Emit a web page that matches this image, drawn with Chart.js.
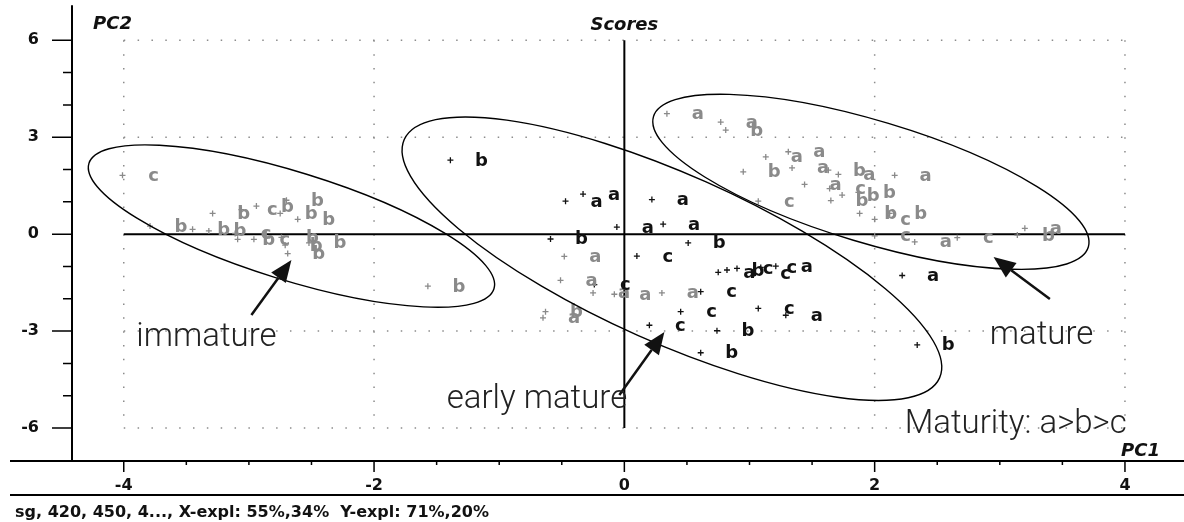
<!DOCTYPE html>
<html>
<head>
<meta charset="utf-8">
<script src="https://cdn.jsdelivr.net/npm/chart.js@4.4.1/dist/chart.umd.min.js"></script>
<style>
  html, body { margin: 0; padding: 0; background: #fff; }
</style>
</head>
<body>
<canvas id="myChart" width="1184" height="522"></canvas>
<script>
// axis tick labels
var xTicks = [-4, -2, 0, 2, 4];
var yTicks = [-6, -3, 0, 3, 6];

// scores drawn in black (early mature group)
var blackPC1 = [-1.39, -0.47, -0.33, 0.22, -0.06, 0.31, -0.59, 0.51, 0.10, 0.75, 0.82, 0.90, 1.04,
                1.09, 1.21, -0.24, 0.61, 0.45, 1.07, 1.29, 0.20, 0.74, 0.61, 2.22, 2.34];
var blackPC2 = [2.29, 1.02, 1.24, 1.07, 0.22, 0.31, -0.15, -0.27, -0.68, -1.18, -1.11, -1.06, -1.22,
                -1.03, -0.99, -1.56, -1.78, -2.40, -2.30, -2.51, -2.82, -2.99, -3.67, -1.28, -3.43];
var blackClass = ['b', 'a', 'a', 'a', 'a', 'a', 'b', 'b', 'c', 'a', 'b', 'c', 'c',
                  'c', 'a', 'c', 'c', 'c', 'c', 'a', 'c', 'b', 'b', 'a', 'b'];

// scores drawn in grey (immature, mature and a few early ones)
var greyPC1 = [-4.01, -3.79, -3.45, -3.32, -3.11, -3.09, -2.96, -2.74, -2.71, -2.69, -2.52, -3.29,
               -3.06, -2.94, -2.70, -2.75, -2.61, -1.57,
               -0.48, -0.51, -0.25, -0.08, 0.30, -0.63, -0.65,
               0.34, 0.77, 0.81, 1.13, 1.31, 0.95, 1.34, 1.44, 1.63, 1.71, 1.64, 1.65, 1.74, 1.87,
               1.88, 2.00, 2.12, 2.16, 1.07, 2.00, 2.32, 2.66, 3.14, 3.20];
var greyPC2 = [1.82, 0.25, 0.15, 0.10, 0.02, -0.16, -0.16, -0.10, -0.34, -0.60, -0.27, 0.64,
               0.76, 0.87, 1.05, 0.64, 0.46, -1.61,
               -0.69, -1.43, -1.82, -1.86, -1.82, -2.40, -2.59,
               3.73, 3.47, 3.22, 2.39, 2.55, 1.93, 2.05, 1.54, 1.98, 1.85, 1.41, 1.04, 1.21, 1.29,
               0.64, 0.46, 0.64, 1.82, 1.02, -0.05, -0.24, -0.11, -0.03, 0.18];
var greyClass = ['c', 'b', 'b', 'b', 'c', 'b', 'c', 'b', 'b', 'b', 'b', 'b',
                 'c', 'b', 'b', 'b', 'b', 'b',
                 'a', 'a', 'a', 'a', 'a', 'b', 'a',
                 'a', 'a', 'b', 'a', 'a', 'b', 'a', 'a', 'b', 'a', 'c', 'b', 'b', 'b',
                 'b', 'c', 'b', 'a', 'c', 'c', 'a', 'c', 'b', 'a'];

// group outlines: centre in score units, radii in px, tilt in degrees
var ellipses = [
    { cx: -2.66, cy: 0.25, rx: 212, ry: 54, rot: 17.2 },
    { cx: 0.38, cy: -0.76, rx: 293, ry: 84, rot: 24.0 },
    { cx: 1.97, cy: 1.62, rx: 227, ry: 61, rot: 16.7 }
];
// arrows: tail -> head in score units
var arrows = [
    { x1: -2.98, y1: -2.50, x2: -2.66, y2: -0.80 },
    { x1: -0.04, y1: -4.98, x2: 0.32, y2: -3.03 },
    { x1: 3.40, y1: -2.01, x2: 2.95, y2: -0.71 }
];
var notes = [
    { text: 'immature', x: -3.90, y: -3.46 },
    { text: 'mature', x: 2.92, y: -3.40 },
    { text: 'early mature', x: -1.42, y: -5.37 },
    { text: 'Maturity: a>b>c', x: 2.24, y: -6.15 }
];

function toPoints(xs, ys) {
    return xs.map(function (v, i) { return { x: v, y: ys[i] }; });
}

var scorePlot = {
    id: 'scorePlot',
    beforeDatasetsDraw: function (chart) {
        var ctx = chart.ctx, sx = chart.scales.x, sy = chart.scales.y;
        ctx.save();
        // dotted frame + grid
        ctx.strokeStyle = '#8c8c8c';
        ctx.lineWidth = 1.5;
        ctx.setLineDash([1.5, 12.35]);
        [-6, -3, 3, 6].forEach(function (v) {
            ctx.beginPath();
            ctx.moveTo(sx.getPixelForValue(-4), sy.getPixelForValue(v));
            ctx.lineTo(sx.getPixelForValue(4), sy.getPixelForValue(v));
            ctx.stroke();
        });
        [-4, -2, 2, 4].forEach(function (v) {
            ctx.beginPath();
            ctx.moveTo(sx.getPixelForValue(v), sy.getPixelForValue(6));
            ctx.lineTo(sx.getPixelForValue(v), sy.getPixelForValue(-6));
            ctx.stroke();
        });
        ctx.setLineDash([]);
        // zero cross
        ctx.strokeStyle = '#000';
        ctx.lineWidth = 2;
        ctx.beginPath();
        ctx.moveTo(sx.getPixelForValue(-4), sy.getPixelForValue(0));
        ctx.lineTo(sx.getPixelForValue(4), sy.getPixelForValue(0));
        ctx.moveTo(sx.getPixelForValue(0), sy.getPixelForValue(6));
        ctx.lineTo(sx.getPixelForValue(0), sy.getPixelForValue(-6));
        ctx.stroke();
        ctx.restore();
    },
    afterDatasetsDraw: function (chart) {
        var ctx = chart.ctx, sx = chart.scales.x, sy = chart.scales.y;
        var area = chart.chartArea;
        ctx.save();

        // letter next to every score
        ctx.font = 'bold 18px "DejaVu Sans"';
        ctx.textAlign = 'center';
        ctx.textBaseline = 'alphabetic';
        chart.data.datasets.forEach(function (ds, di) {
            var meta = chart.getDatasetMeta(di);
            ctx.fillStyle = ds.borderColor;
            meta.data.forEach(function (pt, i) {
                ctx.fillText(ds.classes[i], pt.x + 31, pt.y + 5.5);
            });
        });

        // axes
        ctx.strokeStyle = '#000';
        ctx.lineWidth = 2;
        ctx.beginPath();
        ctx.moveTo(area.left, area.top);
        ctx.lineTo(area.left, area.bottom);
        ctx.moveTo(10, area.bottom);
        ctx.lineTo(chart.width, area.bottom);
        ctx.moveTo(10, area.bottom + 34);
        ctx.lineTo(chart.width, area.bottom + 34);
        ctx.stroke();

        ctx.lineWidth = 1.5;
        ctx.beginPath();
        for (var v = -4; v <= 4.01; v += 0.5) {
            var p = sx.getPixelForValue(v);
            var len = (xTicks.indexOf(v) >= 0) ? 11 : 4;
            ctx.moveTo(p, area.bottom);
            ctx.lineTo(p, area.bottom + len);
        }
        for (var w = -6; w <= 6; w += 1) {
            var q = sy.getPixelForValue(w);
            var len2 = (yTicks.indexOf(w) >= 0) ? 20 : 9;
            ctx.moveTo(area.left - len2, q);
            ctx.lineTo(area.left, q);
        }
        ctx.stroke();

        // titles
        ctx.fillStyle = '#111';
        ctx.font = 'italic bold 18px "DejaVu Sans"';
        ctx.textAlign = 'center';
        ctx.fillText('Scores', sx.getPixelForValue(0), 30);
        ctx.textAlign = 'left';
        ctx.fillText('PC2', 93, 29);
        ctx.fillText('PC1', 1121, 456);
        ctx.font = 'bold 16px "DejaVu Sans"';
        ctx.fillText('sg, 420, 450, 4..., X-expl: 55%,34%  Y-expl: 71%,20%', 15, 517);

        // outlines
        ctx.lineWidth = 1.4;
        ellipses.forEach(function (e) {
            ctx.beginPath();
            ctx.ellipse(sx.getPixelForValue(e.cx), sy.getPixelForValue(e.cy), e.rx, e.ry,
                e.rot * Math.PI / 180, 0, Math.PI * 2);
            ctx.stroke();
        });

        // arrows
        ctx.lineWidth = 2.5;
        ctx.fillStyle = '#111';
        ctx.strokeStyle = '#111';
        arrows.forEach(function (a) {
            var x1 = sx.getPixelForValue(a.x1), y1 = sy.getPixelForValue(a.y1);
            var x2 = sx.getPixelForValue(a.x2), y2 = sy.getPixelForValue(a.y2);
            var ang = Math.atan2(y2 - y1, x2 - x1);
            var hl = 22, hw = 9;
            var bx = x2 - hl * Math.cos(ang), by = y2 - hl * Math.sin(ang);
            ctx.beginPath();
            ctx.moveTo(x1, y1);
            ctx.lineTo(bx, by);
            ctx.stroke();
            ctx.beginPath();
            ctx.moveTo(x2, y2);
            ctx.lineTo(bx + hw * Math.sin(ang), by - hw * Math.cos(ang));
            ctx.lineTo(bx - hw * Math.sin(ang), by + hw * Math.cos(ang));
            ctx.closePath();
            ctx.fill();
        });

        // notes
        ctx.font = '300 33px Roboto';
        ctx.fillStyle = '#222';
        ctx.textAlign = 'left';
        notes.forEach(function (n) {
            ctx.fillText(n.text, sx.getPixelForValue(n.x), sy.getPixelForValue(n.y));
        });
        ctx.restore();
    }
};

function fixX(s) { s.height = 61; s.paddingLeft = 0; s.paddingRight = 0; }
function fixY(s) { s.width = 72; s.paddingTop = 0; s.paddingBottom = 0; }

var ctx = document.getElementById('myChart').getContext('2d');
var myChart = new Chart(ctx, {
    type: 'scatter',
    data: {
        datasets: [{
            label: 'grey',
            data: toPoints(greyPC1, greyPC2),
            classes: greyClass,
            pointStyle: 'cross',
            pointRadius: 3,
            borderWidth: 1.3,
            borderColor: '#8a8a8a',
            backgroundColor: '#8a8a8a'
        }, {
            label: 'black',
            data: toPoints(blackPC1, blackPC2),
            classes: blackClass,
            pointStyle: 'cross',
            pointRadius: 3,
            borderWidth: 1.3,
            borderColor: '#111',
            backgroundColor: '#111'
        }]
    },
    options: {
        responsive: false,
        animation: false,
        layout: { padding: { top: 5, right: 0, bottom: 0, left: 0 } },
        plugins: { legend: { display: false }, tooltip: { enabled: false } },
        scales: {
            x: {
                type: 'linear',
                min: -4.4135,
                max: 4.4294,
                afterBuildTicks: function (s) { s.ticks = xTicks.map(function (v) { return { value: v }; }); },
                afterFit: fixX,
                grid: { display: false, drawTicks: false },
                border: { display: false },
                ticks: { font: { family: 'DejaVu Sans', weight: 'bold', size: 16 }, color: '#111', padding: 15, maxRotation: 0, autoSkip: false }
            },
            y: {
                type: 'linear',
                min: -7.021,
                max: 7.083,
                afterBuildTicks: function (s) { s.ticks = yTicks.map(function (v) { return { value: v }; }); },
                afterFit: fixY,
                grid: { display: false, drawTicks: false },
                border: { display: false },
                ticks: { font: { family: 'DejaVu Sans', weight: 'bold', size: 16 }, color: '#111', padding: 33, autoSkip: false }
            }
        }
    },
    plugins: [scorePlot]
});
</script>
</body>
</html>
